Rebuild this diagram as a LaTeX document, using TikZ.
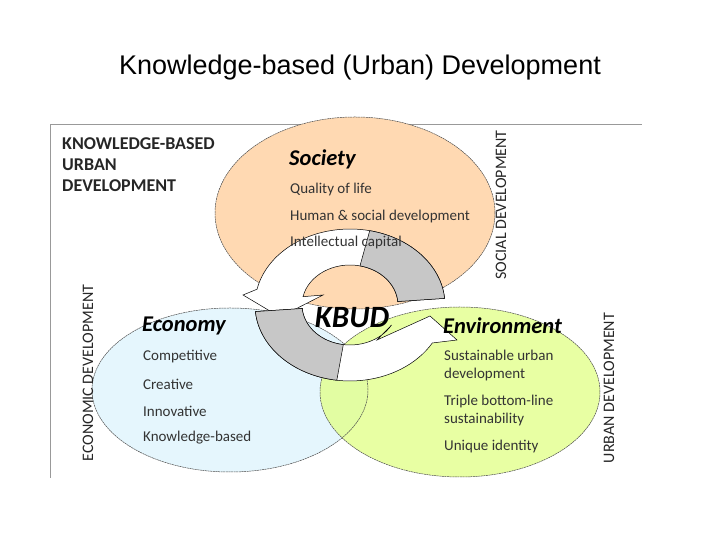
\documentclass[tikz,border=0pt]{standalone}
\usepackage{fontspec}
\setmainfont{Carlito}
\newfontfamily\arialf{Liberation Sans}
\usetikzlibrary{calc}
\begin{document}
\begin{tikzpicture}[x=1pt,y=1pt,
  ell/.style={draw=black!70,dash pattern=on 2pt off 0.6pt,line width=0.5pt},
  itm/.style={anchor=west,inner sep=0pt,font=\fontsize{15}{18}\selectfont,text=black!80},
  head/.style={anchor=west,inner sep=0pt,font=\fontsize{22.5}{24}\selectfont\bfseries\itshape},
  side/.style={inner sep=0pt,rotate=90,font=\fontsize{16}{18}\selectfont,text=black!85},
  arr/.style={draw=black,line width=0.5pt,line join=miter}]
\useasboundingbox (0,0) rectangle (720,540);
\node[font=\arialf\fontsize{27}{30}\selectfont] (title) at (360,472) {Knowledge-based (Urban) Development};
\draw[black!40,line width=0.6pt] (50,62) -- (50,416) -- (642,416);
% ellipses
\fill[fill=orange!30!white] (355,327) ellipse[x radius=140,y radius=96];
\fill[fill=cyan!12!white,opacity=0.85] (230,150) ellipse[x radius=138,y radius=82];
\fill[fill=lime!45!white,opacity=0.8] (460,148) ellipse[x radius=140,y radius=85];
\draw[ell] (355,327) ellipse[x radius=140,y radius=96];
\draw[ell] (230,150) ellipse[x radius=138,y radius=82];
\draw[ell] (460,148) ellipse[x radius=140,y radius=85];
% arrow A (top, to left)
\path[arr,fill=white] (397.8,238.5) -- (444.6,241.6)
  arc[start angle=5,end angle=168,x radius=95,y radius=76]
  -- (243,245) -- (280,223) -- (323,245) -- (303,243.3)
  arc[start angle=168,end angle=5,x radius=48,y radius=40] -- cycle;
\path[arr,fill=black!22] (397.8,238.5) -- (444.6,241.6)
  arc[start angle=5,end angle=78,x radius=95,y radius=76]
  -- ($(350,235)+(78:48 and 40)$)
  arc[start angle=78,end angle=5,x radius=48,y radius=40] -- cycle;
% arrow B (bottom, to right)
\path[arr,fill=white] (302.2,231.5) -- (255.4,228.4)
  arc[start angle=185,end angle=330,x radius=95,y radius=76]
  -- (457,200) -- (430,224) -- (377,200) -- ($(350,235)+(330:48 and 40)$)
  arc[start angle=330,end angle=185,x radius=48,y radius=40] -- cycle;
\path[arr,fill=black!22] (302.2,231.5) -- (255.4,228.4)
  arc[start angle=185,end angle=262,x radius=95,y radius=76]
  -- ($(350,235)+(262:48 and 40)$)
  arc[start angle=262,end angle=185,x radius=48,y radius=40] -- cycle;
% texts
\node[anchor=west,inner sep=0pt,align=left,font=\fontsize{18}{21}\selectfont\bfseries,text=black!85] (kbud) at (62,375) {KNOWLEDGE-BASED\\URBAN\\DEVELOPMENT};
\node[head] (society) at (289,381) {Society};
\node[itm] (q) at (290,350) {Quality of life};
\node[itm] (h) at (290,323) {Human \& social development};
\node[itm] (ic) at (290,297) {Intellectual capital};
\node[head] (econ) at (142,214) {Economy};
\node[itm] (c1) at (143,183) {Competitive};
\node[itm] (c2) at (143,156) {Creative};
\node[itm] (c3) at (143,129) {Innovative};
\node[itm] (c4) at (143,102) {Knowledge-based};
\node[head] (env) at (443,214) {Environment};
\node[itm,align=left] (e1) at (444,174) {Sustainable urban\\development};
\node[itm,align=left] (e2) at (444,129) {Triple bottom-line\\sustainability};
\node[itm] (e3) at (444,93) {Unique identity};
\node[inner sep=0pt,font=\fontsize{31}{33}\selectfont\bfseries\itshape] (k) at (352,222) {KBUD};
\node[side] (sd) at (501,335) {SOCIAL DEVELOPMENT};
\node[side] (ed) at (88,167) {ECONOMIC DEVELOPMENT};
\node[side] (ud) at (609,152) {URBAN DEVELOPMENT};
\end{tikzpicture}
\end{document}
